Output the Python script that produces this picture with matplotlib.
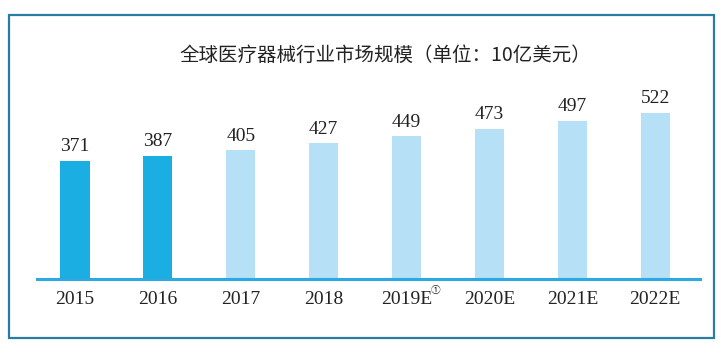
import matplotlib

matplotlib.use("Agg")
import matplotlib.pyplot as plt
from matplotlib.patches import Rectangle

# ---- data ------------------------------------------------------------------
years = ["2015", "2016", "2017", "2018", "2019E", "2020E", "2021E", "2022E"]
values = [371, 387, 405, 427, 449, 473, 497, 522]
actual = [True, True, False, False, False, False, False, False]

TITLE = "全球医疗器械行业市场规模（单位：10亿美元）"

# ---- palette ---------------------------------------------------------------
DARK = "#1aaee2"
LIGHT = "#b5e0f6"
AXIS = "#2aaae0"
FRAME = "#2a7d9e"
INK = "#222222"
SERIF = ["Liberation Serif", "DejaVu Serif"]
CJK = ["Noto Sans CJK SC", "DejaVu Sans"]

W, H = 721, 353
fig = plt.figure(figsize=(W / 100, H / 100), dpi=100)

# axes placed in pixel terms: baseline at y=279 from top, 0.318 px per unit
x0, x1 = 37, 700
base_y, top_y = 279, 20
ax = fig.add_axes([x0 / W, (H - base_y) / H, (x1 - x0) / W, (base_y - top_y) / H])
ax.set_ylim(0, (base_y - top_y) / 0.318)
step = 82.9
ax.set_xlim((x0 - 75) / step, (x1 - 75) / step)

xs = list(range(len(years)))
colors = [DARK if a else LIGHT for a in actual]
ax.bar(xs, values, width=0.35, color=colors, zorder=2)

for x, v in zip(xs, values):
    ax.annotate(str(v), xy=(x, v), xytext=(0, 4), textcoords="offset points",
                ha="center", va="bottom", fontsize=14, family=SERIF, color=INK)

ax.set_xticks(xs)
ax.set_xticklabels(years, family=SERIF, fontsize=14, color=INK)
ax.tick_params(axis="x", length=0, pad=9)
ax.set_yticks([])
for s in ("top", "left", "right"):
    ax.spines[s].set_visible(False)
ax.spines["bottom"].set_color(AXIS)
ax.spines["bottom"].set_linewidth(2.2)

# footnote mark on 2019E
ax.annotate("①", xy=(4, 0), xycoords=("data", "axes fraction"),
            xytext=(21, -8), textcoords="offset points", ha="center",
            va="center", fontsize=7, family=CJK, color=INK)

fig.text(385 / W, 1 - 55 / H, TITLE, ha="center", va="center",
         fontsize=14, family=CJK, color=INK)

# outer frame
fig.patches.append(Rectangle((9 / W, 1 - 338 / H), (714 - 9) / W, (338 - 15) / H,
                             transform=fig.transFigure, fill=False,
                             edgecolor=FRAME, linewidth=1.6))

fig.savefig("out.png", dpi=100)
